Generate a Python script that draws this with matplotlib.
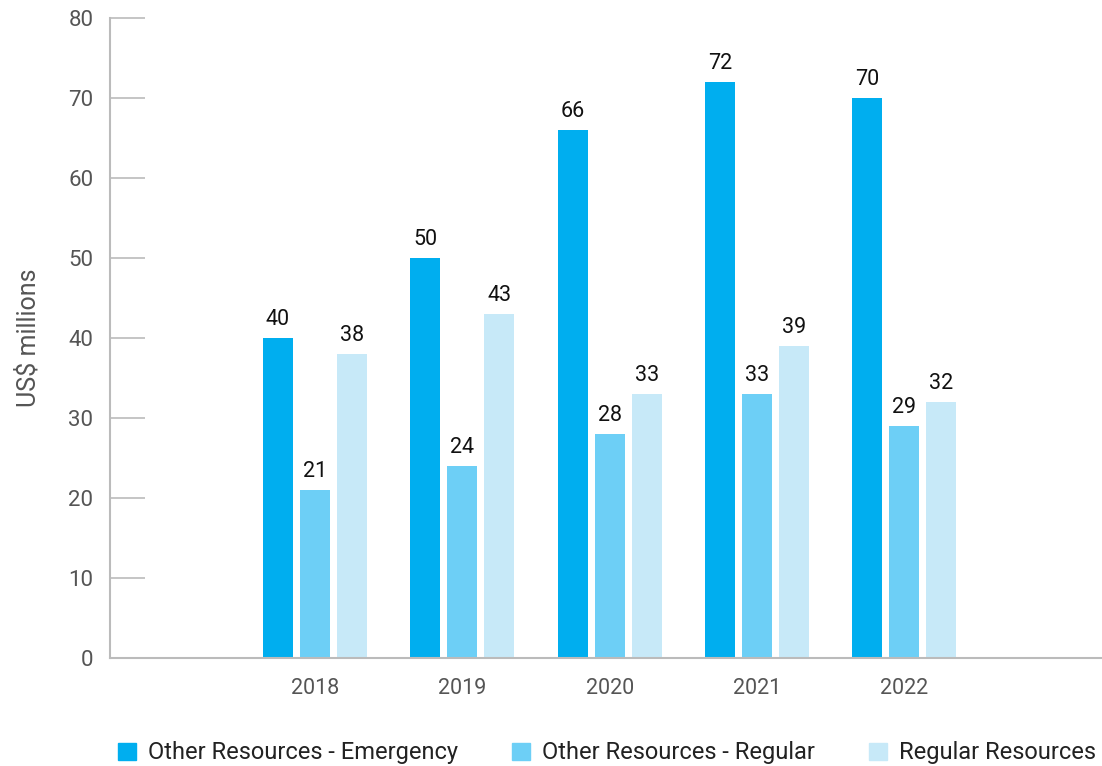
import matplotlib
matplotlib.use("Agg")
import matplotlib.pyplot as plt
from matplotlib.patches import Rectangle
import numpy as np

years = ["2018", "2019", "2020", "2021", "2022"]
series_names = ["Other Resources - Emergency", "Other Resources - Regular", "Regular Resources"]
emergency = [40, 50, 66, 72, 70]
other_regular = [21, 24, 28, 33, 29]
regular = [38, 43, 33, 39, 32]
colors = ["#00AEEF", "#6DCFF6", "#C7E9F8"]

plt.rcParams['font.family'] = ['Roboto', 'DejaVu Sans']

fig = plt.figure(figsize=(11.02, 7.66), dpi=100)
ax = fig.add_axes([110/1102, 1 - 657.5/766, 1 - 110/1102, 640/766])

x = np.arange(len(years))
width = 0.2035
step = 0.251
for i, (vals, c) in enumerate(zip([emergency, other_regular, regular], colors)):
    pos = x + (i - 1) * step
    ax.bar(pos, vals, width=width, color=c, zorder=2)
    for p, v in zip(pos, vals):
        ax.text(p, v + 0.9, str(v), ha='center', va='bottom', fontsize=15.5, color='#111111')

ax.set_xlim(-1.39, 5.34)
ax.set_ylim(0, 80)
ax.set_yticks(range(0, 81, 10))
ax.set_xticks(x)
ax.set_xticklabels(years)
ax.tick_params(axis='x', length=0, pad=15, labelsize=15.5, labelcolor='#555555')
ax.tick_params(axis='y', direction='in', length=25, width=1.2, color='#bbbbbb', pad=12,
               labelsize=16, labelcolor='#555555')
for s in ['top', 'right']:
    ax.spines[s].set_visible(False)
ax.spines['left'].set_color('#bbbbbb')
ax.spines['left'].set_linewidth(1.5)
ax.spines['bottom'].set_color('#bbbbbb')
ax.spines['bottom'].set_linewidth(1.5)
ax.set_ylabel("US$ millions", fontsize=18, color='#555555', labelpad=20)

handles = [Rectangle((0, 0), 1, 1, color=c) for c in colors]
leg = fig.legend(handles, series_names, loc='center left', bbox_to_anchor=(118/1102, 1 - 753/766),
                 ncol=3, frameon=False, fontsize=17, handlelength=0.76, handleheight=0.76,
                 columnspacing=2.3, handletextpad=0.5, borderpad=0, borderaxespad=0)
for t in leg.get_texts():
    t.set_color('#222222')

fig.savefig("out.png", dpi=100)
